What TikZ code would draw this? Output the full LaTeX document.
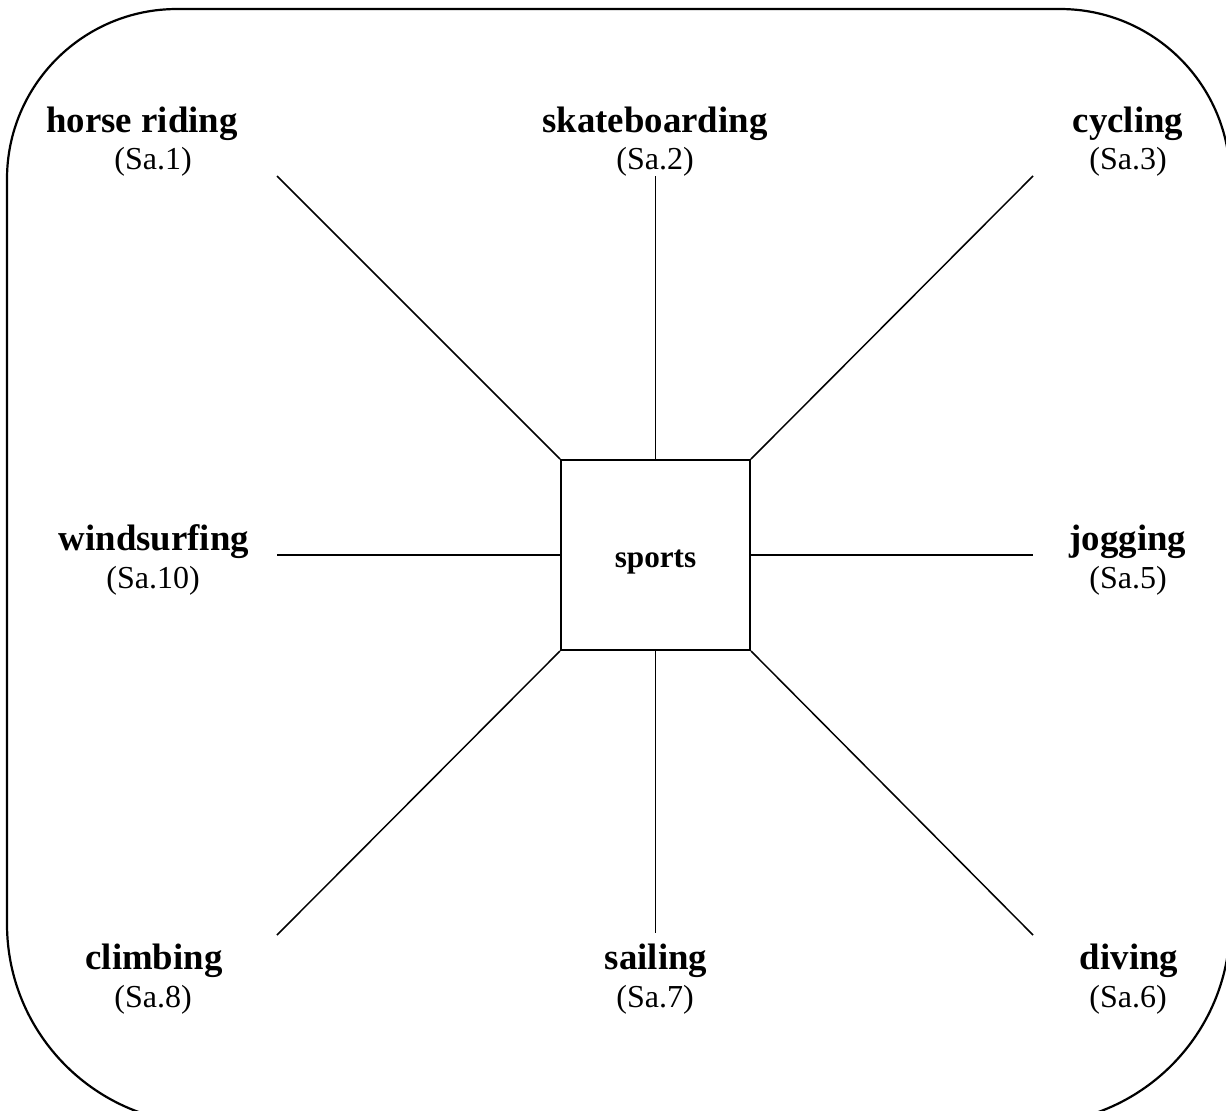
\documentclass[tikz,border=0pt]{standalone}
\usepackage{fontspec}
\setmainfont{Liberation Serif}
\tikzset{
  lbl/.style={anchor=base, inner sep=0pt, font=\fontsize{18.4pt}{20pt}\selectfont\bfseries},
  sub/.style={anchor=base, inner sep=0pt, font=\fontsize{16pt}{18pt}\selectfont},
  hubbox/.style={draw, line width=1pt, minimum width=94.5pt, minimum height=95pt, inner sep=0pt,
    text height=12pt, text depth=0pt, font=\fontsize{15.6pt}{17pt}\selectfont\bfseries},
  spoke/.style={line width=0.75pt},
  frame/.style={line width=1.1pt}
}
\begin{document}
\begin{tikzpicture}[x=0.5pt,y=-0.5pt]
\useasboundingbox (0,0) rectangle (1226,1110);
\clip (0,0) rectangle (1226,1110);
% outer rounded frame (clipped at right and bottom)
\draw[frame] (7,924) -- (7,179) arc[start angle=180,end angle=270,radius=170]
  -- (1060,9) arc[start angle=270,end angle=360,radius=170]
  -- (1230,924) arc[start angle=0,end angle=90,radius=200]
  -- (207,1124) arc[start angle=90,end angle=180,radius=200] -- cycle;
% central box
\node[hubbox] (hub) at (655.5,555) {sports};
% labels
\node[lbl] (l1) at (142,132) {horse riding};
\node[sub] (s1) at (153,169) {(Sa.1)};
\node[lbl] (l2) at (655,132) {skateboarding};
\node[sub] (s2) at (655,169) {(Sa.2)};
\node[lbl] (l3) at (1128,132) {cycling};
\node[sub] (s3) at (1128,169) {(Sa.3)};
\node[lbl] (l10) at (154,550) {windsurfing};
\node[sub] (s10) at (153,588) {(Sa.10)};
\node[lbl] (l5) at (1128,550) {jogging};
\node[sub] (s5) at (1128,588) {(Sa.5)};
\node[lbl] (l8) at (154,969) {climbing};
\node[sub] (s8) at (153,1007) {(Sa.8)};
\node[lbl] (l7) at (656,969) {sailing};
\node[sub] (s7) at (655,1007) {(Sa.7)};
\node[lbl] (l6) at (1129,969) {diving};
\node[sub] (s6) at (1128,1007) {(Sa.6)};
% free ends of spokes
\coordinate (e1) at (277,176);
\coordinate (e2) at (655.5,176);
\coordinate (e3) at (1033,176);
\coordinate (e10) at (277,555);
\coordinate (e5) at (1033,555);
\coordinate (e8) at (277,935);
\coordinate (e7) at (655.5,933);
\coordinate (e6) at (1033,935);
% spokes
\draw[spoke] (hub.north west) -- (e1);
\draw[spoke] (hub.north) -- (e2);
\draw[spoke] (hub.north east) -- (e3);
\draw[spoke] (hub.west) -- (e10);
\draw[spoke] (hub.east) -- (e5);
\draw[spoke] (hub.south west) -- (e8);
\draw[spoke] (hub.south) -- (e7);
\draw[spoke] (hub.south east) -- (e6);
\end{tikzpicture}
\end{document}
